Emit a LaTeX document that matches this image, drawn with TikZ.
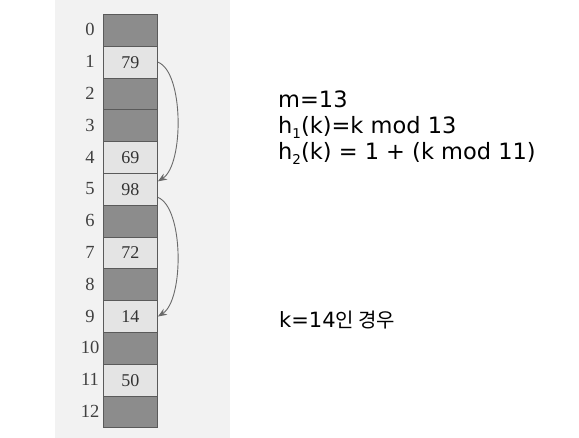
\documentclass[tikz,border=0pt]{standalone}
\usepackage{fontspec}
\newfontfamily\kr{Noto Sans CJK KR}
\newfontfamily\lat{DejaVu Sans}
\newfontfamily\scanserif{Liberation Serif}
\definecolor{bgscan}{HTML}{F2F2F2}
\definecolor{darkcell}{HTML}{8C8C8C}
\definecolor{lightcell}{HTML}{E4E4E4}
\definecolor{cellborder}{HTML}{5A5A5A}
\definecolor{arrowgray}{HTML}{6A6A6A}
\newcommand{\sbs}[1]{\raisebox{-5pt}{\fontsize{13.5}{13.5}\selectfont #1}}
\tikzset{
  cellbase/.style={draw=cellborder, line width=0.9pt, minimum width=54pt, minimum height=31.8pt, inner sep=0pt, anchor=north west, font=\scanserif\fontsize{18}{18}\selectfont, text=black!80},
  darkbox/.style={cellbase, fill=darkcell},
  lightbox/.style={cellbase, fill=lightcell},
  idxlabel/.style={font=\scanserif\fontsize{18.5}{18.5}\selectfont, text=black!75, inner sep=0pt},
  probe/.style={draw=arrowgray, line width=0.9pt, -{Stealth[length=9pt,width=7pt]}},
  infotext/.style={font=\lat\fontsize{22.5}{22.5}\selectfont, anchor=base west, inner sep=0pt}
}
\usetikzlibrary{arrows.meta}
\begin{document}
\begin{tikzpicture}[x=1pt,y=-1pt]
\useasboundingbox (0,0) rectangle (579,438);
\fill[bgscan] (55,0) rectangle (230,438);
% cells
\foreach \i/\v/\s in {0//darkbox,1/79/lightbox,2//darkbox,3//darkbox,4/69/lightbox,5/98/lightbox,6//darkbox,7/72/lightbox,8//darkbox,9/14/lightbox,10//darkbox,11/50/lightbox,12//darkbox}{
  \node[\s] (c\i) at (103,{14+31.8*\i}) {\v};
  \node[idxlabel] (n\i) at (90,{14+31.8*\i+15.9}) {\i};
}
% probes
\draw[probe] (c1.east) .. controls (184,72) and (184,165) .. ([yshift=8pt]c5.east);
\draw[probe] ([yshift=-8pt]c5.east) .. controls (184,208) and (184,300) .. (c9.east);
% text
\node[infotext] (t1) at (278,108) {m=13};
\node[infotext] (t2) at (278,134) {h\sbs{1}(k)=k mod 13};
\node[infotext] (t3) at (278,160) {h\sbs{2}(k) = 1 + (k mod 11)};
\node[infotext, font=\lat\fontsize{21}{21}\selectfont] (t4) at (279,328) {k=14{\kr\fontsize{20}{20}\selectfont 인 경우}};
\end{tikzpicture}
\end{document}
